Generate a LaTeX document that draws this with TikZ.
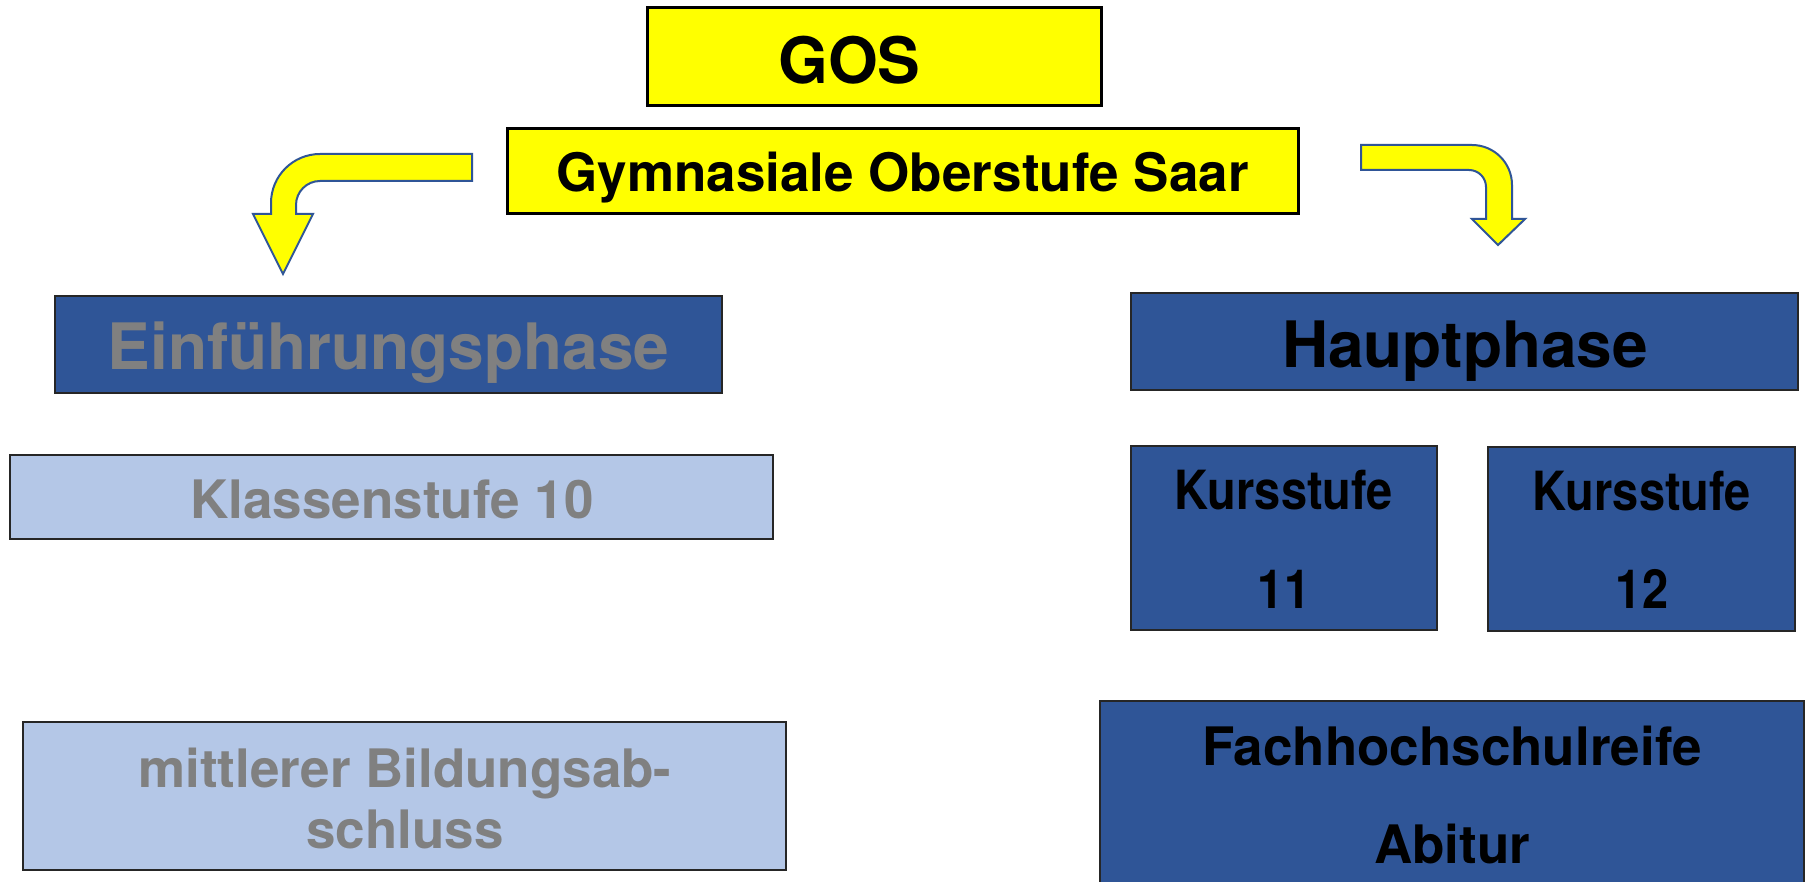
\documentclass[tikz,border=0pt]{standalone}
\usepackage{fontspec}
\setmainfont{TeX Gyre Heros}
\definecolor{yel}{RGB}{255,255,0}
\definecolor{dblue}{RGB}{47,85,151}
\definecolor{lblue}{RGB}{180,199,231}
\definecolor{txtgray}{RGB}{128,128,128}
\begin{document}
\begin{tikzpicture}[x=1pt,y=-1pt,
  ybox/.style={draw=black,line width=3pt,fill=yel,inner sep=0pt},
  dbox/.style={draw=black!85,line width=1.8pt,fill=dblue,inner sep=0pt},
  lbox/.style={draw=black!85,line width=1.8pt,fill=lblue,inner sep=0pt},
  bendarrow/.style={fill=yel,draw=dblue,line width=2pt,line join=miter},
  bigtxt/.style={font=\fontsize{64pt}{64pt}\selectfont\bfseries,inner sep=0pt,anchor=base},
  midtxt/.style={font=\fontsize{53pt}{53pt}\selectfont\bfseries,inner sep=0pt,anchor=base},
  kurstxt/.style={font=\fontsize{54pt}{54pt}\selectfont\bfseries,inner sep=0pt,anchor=base},
  ]
\useasboundingbox (0,0) rectangle (1806,882);
\fill[white] (0,0) rectangle (1806,882);

% boxes
\node[ybox,minimum width=454pt,minimum height=98pt] (gos) at (874,57) {};
\node[ybox,minimum width=791pt,minimum height=85pt] (gym) at (902.5,171.5) {};
\node[dbox,minimum width=667pt,minimum height=97pt] (einf) at (388.5,344.5) {};
\node[lbox,minimum width=763pt,minimum height=84pt] (klasse) at (391.5,497) {};
\node[lbox,minimum width=763pt,minimum height=148pt] (mittl) at (404.5,796) {};
\node[dbox,minimum width=667pt,minimum height=97pt] (haupt) at (1464.5,341.5) {};
\node[dbox,minimum width=306pt,minimum height=184pt] (k11) at (1284,538) {};
\node[dbox,minimum width=307pt,minimum height=184pt] (k12) at (1641.5,539) {};
\node[dbox,minimum width=704pt,minimum height=194pt] (abi) at (1452,798) {};

% texts
\node[bigtxt] (gos-t) at (849.5,84) {GOS};
\node[midtxt] (gym-t) at (902.5,192) {Gymnasiale Oberstufe Saar};
\node[bigtxt,text=txtgray] (einf-t) at (388.5,369) {Einführungsphase};
\node[bigtxt] (haupt-t) at (1465,367) {Hauptphase};
\node[midtxt,text=txtgray] (klasse-t) at (392,518) {Klassenstufe 10};
\node[kurstxt] (k11-t1) at (1284,509) {\scalebox{0.87}[1]{Kursstufe}};
\node[kurstxt] (k11-t2) at (1284,608) {\scalebox{0.87}[1]{11}};
\node[kurstxt] (k12-t1) at (1642,510) {\scalebox{0.87}[1]{Kursstufe}};
\node[kurstxt] (k12-t2) at (1642,608) {\scalebox{0.87}[1]{12}};
\node[midtxt,text=txtgray] (mittl-t1) at (405,787) {mittlerer Bildungsab-};
\node[midtxt,text=txtgray] (mittl-t2) at (405,848) {schluss};
\node[midtxt] (abi-t1) at (1452,765) {Fachhochschulreife};
\node[midtxt] (abi-t2) at (1452,863) {Abitur};

% left bent arrow
\draw[bendarrow] (472,154) -- (320,154) arc[start angle=90,end angle=180,radius=49pt]
  -- (271,214) -- (253,214) -- (283,274) -- (313,214) -- (296,214) -- (296,205)
  arc[start angle=180,end angle=90,radius=24pt] -- (472,181) -- cycle;

% right bent arrow
\draw[bendarrow] (1361,145) -- (1472,145) arc[start angle=90,end angle=0,radius=40pt]
  -- (1512,219) -- (1525,219) -- (1498,245) -- (1472,219) -- (1486,219) -- (1486,187)
  arc[start angle=0,end angle=90,radius=17pt] -- (1361,170) -- cycle;
\end{tikzpicture}
\end{document}
